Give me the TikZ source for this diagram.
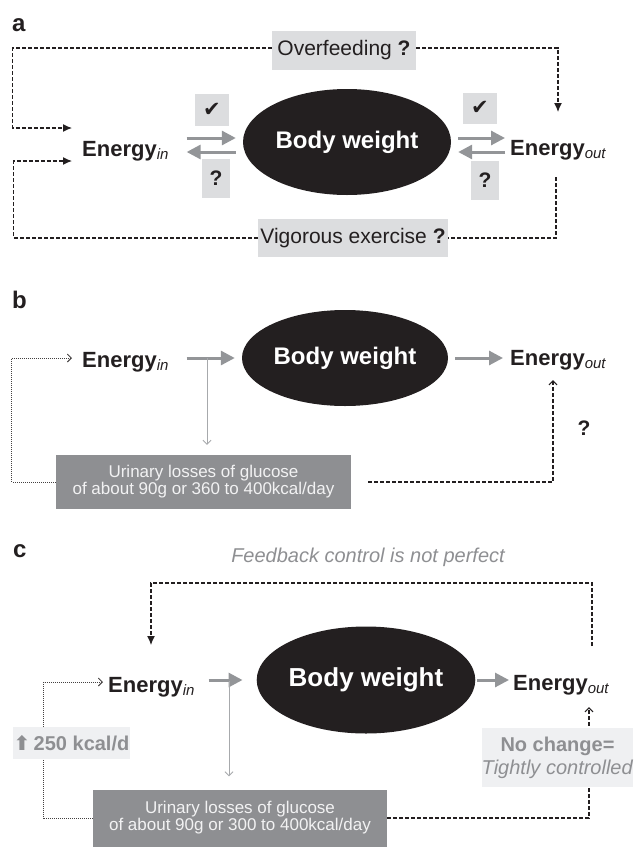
\documentclass[tikz,border=0pt]{standalone}
\usepackage{fontspec}
\setmainfont{Liberation Sans}
\newfontfamily\symfont{DejaVu Sans}
\usetikzlibrary{shapes.geometric,arrows.meta,calc}
\definecolor{bwblack}{HTML}{231F20}
\definecolor{qgray}{HTML}{DCDDDF}
\definecolor{lossgray}{HTML}{8E8F92}
\definecolor{losstext}{HTML}{F2F2F3}
\definecolor{notegray}{HTML}{EFF0F2}
\definecolor{textgray}{HTML}{8E8F92}
\definecolor{arrowgray}{HTML}{939598}
\definecolor{thingray}{HTML}{A7A9AC}
\newcommand{\fs}[1]{\fontsize{#1}{#1}\selectfont}
\newcommand{\sub}[1]{\raisebox{-3pt}{\fs{15}\mdseries\itshape #1}}
\newcommand{\chk}{{\symfont ✔}}
\begin{document}
\begin{tikzpicture}[x=1pt, y=-1pt,
  body/.style={ellipse, fill=bwblack, text=white, inner sep=0, font=\bfseries\fs{24}},
  energy/.style={anchor=base west, inner sep=0, text=bwblack, font=\bfseries\fs{22}},
  qbox/.style={fill=qgray, inner sep=0, font=\bfseries\fs{21}, text=bwblack},
  cause/.style={fill=qgray, inner sep=0, font=\fs{21}, text=bwblack},
  loss/.style={fill=lossgray, inner sep=0, text=losstext, font=\fs{17}, align=center},
  note/.style={fill=notegray, inner sep=0, text=textgray, align=center},
  panel/.style={anchor=base west, inner sep=0, font=\bfseries\fs{24}, text=bwblack},
  garrow/.style={draw=arrowgray, line width=3pt, -{Triangle[length=14pt,width=14pt]}},
  thinarrow/.style={draw=thingray, line width=0.9pt, -{Straight Barb[length=4pt,width=8pt]}},
  dashline/.style={draw=bwblack, line width=1.2pt, dash pattern=on 4pt off 2pt},
  dotline/.style={draw=bwblack!85, line width=0.9pt, dash pattern=on 1pt off 1pt},
  fulltip/.style={-{Latex[length=9pt,width=8pt]}},
  opentip/.style={-{Straight Barb[length=4pt,width=8pt]}}]
\useasboundingbox (0,0) rectangle (636,847);

% a
\node[panel] at (12,31) {a};
\node[body, minimum width=208, minimum height=106] (bwa) at (347,142) {Body weight};
\node[energy] (eina) at (82,156) {Energy\sub{in}};
\node[energy] (eouta) at (510,155) {Energy\sub{out}};
\node[cause, minimum width=144, minimum height=39] (ovf) at (344,50) {Overfeeding \textbf{?}};
\node[cause, minimum width=190, minimum height=38] (vig) at (353,238) {Vigorous exercise \textbf{?}};
\foreach \n/\x/\y/\w/\h/\t in {cka/212/110/34/32/\chk, qa/216/178/28/39/?, ckb/480/108/34/31/\chk, qb/485/180/28/39/?} {
\node[qbox, minimum width=\w, minimum height=\h] (\n) at (\x,\y) {\t};}
\draw[garrow, shorten <=18pt, shorten >=7pt] ($(bwa.west -| eina.east)+(0,-4)$) -- ($(bwa.west)+(0,-4)$);
\draw[garrow, shorten <=7pt, shorten >=18pt] ($(bwa.west)+(0,10)$) -- ($(bwa.west -| eina.east)+(0,10)$);
\draw[garrow, shorten <=7pt, shorten >=5pt] ($(bwa.east)+(0,-4)$) -- ($(bwa.east -| eouta.west)+(0,-4)$);
\draw[garrow, shorten <=5pt, shorten >=7pt] ($(bwa.east -| eouta.west)+(0,10)$) -- ($(bwa.east)+(0,10)$);
\draw[dashline, fulltip] ($(ovf.west)+(0,-2)$) -- ++(-259,0) |- ($(eina.base west)+(-10,-28)$);
\draw[dashline, fulltip] (vig.west) -- ++(-244,0) |- ($(eina.base west)+(-10,5)$);
\draw[dashline, fulltip] ($(ovf.east)+(0,-2)$) -| ($(eouta.base west)+(48,-43)$);
\draw[dashline] ($(eouta.base west)+(46,22)$) |- (vig.east);

% b
\node[panel] at (12,308) {b};
\node[body, minimum width=206, minimum height=96] (bwb) at (345,358) {Body weight};
\node[energy] (einb) at (82,367) {Energy\sub{in}};
\node[energy] (eoutb) at (510,365) {Energy\sub{out}};
\node[loss, minimum width=295, minimum height=54] (urb) at (203.5,482) {Urinary losses of glucose\\of about 90g or 360 to 400kcal/day};
\node[inner sep=0, font=\bfseries\fs{21}, text=bwblack] (qmark) at (584,428) {?};
\coordinate (splitb) at (207,358);
\draw[garrow, shorten <=18pt, shorten >=7pt] (bwb.west -| einb.east) -- (bwb.west);
\draw[thinarrow, shorten >=10pt] (splitb) -- (splitb |- urb.north);
\draw[garrow, shorten <=7pt, shorten >=7pt] (bwb.east) -- (bwb.east -| eoutb.west);
\draw[dashline, opentip, shorten <=17pt] (urb.east) -| ($(eoutb.base west)+(43,15)$);
\draw[dotline, opentip] (urb.west) -- ++(-44,0) |- ($(einb.base west)+(-10,-9)$);

% c
\node[panel] at (13,557) {c};
\node[inner sep=0, font=\itshape\fs{20}, text=textgray] (fb) at (368,557) {Feedback control is not perfect};
\node[body, font=\bfseries\fs{26}, minimum width=194, minimum height=107] (bwc) at (366,680) {Body weight};
\node[energy] (einc) at (108,692) {Energy\sub{in}};
\node[energy] (eoutc) at (513,690) {Energy\sub{out}};
\node[loss, minimum width=294, minimum height=57] (urc) at (240,818) {Urinary losses of glucose\\of about 90g or 300 to 400kcal/day};
\coordinate (splitc) at (229,681);
\draw[dashline, fulltip] ($(eoutc.base west)+(79,-44)$) -- ++(0,-63) -| ($(einc.base west)+(43,-47)$);
\draw[dotline, opentip] (urc.west) -- ++(-49,0) |- ($(einc.base west)+(-5,-10)$);
\draw[garrow, shorten <=14pt, shorten >=14pt] (bwc.west -| einc.east) -- (bwc.west);
\draw[thinarrow, shorten >=13pt] (splitc) -- (splitc |- urc.north);
\draw[garrow, shorten <=2pt, shorten >=4pt] (bwc.east) -- (bwc.east -| eoutc.west);
\draw[dashline, opentip] (urc.east) -| ($(eoutc.base west)+(76,17)$);
\node[note, font=\bfseries\fs{20}, minimum width=117, minimum height=32] (kcal) at (71.5,743) {{\symfont\bfseries ⬆}\,250 kcal/d};
\node[note, font=\fs{20}, minimum width=151, minimum height=59] (nochg) at (557.5,757.5) {\textbf{No change=}\\[3pt]\textit{Tightly controlled}};
\end{tikzpicture}
\end{document}
